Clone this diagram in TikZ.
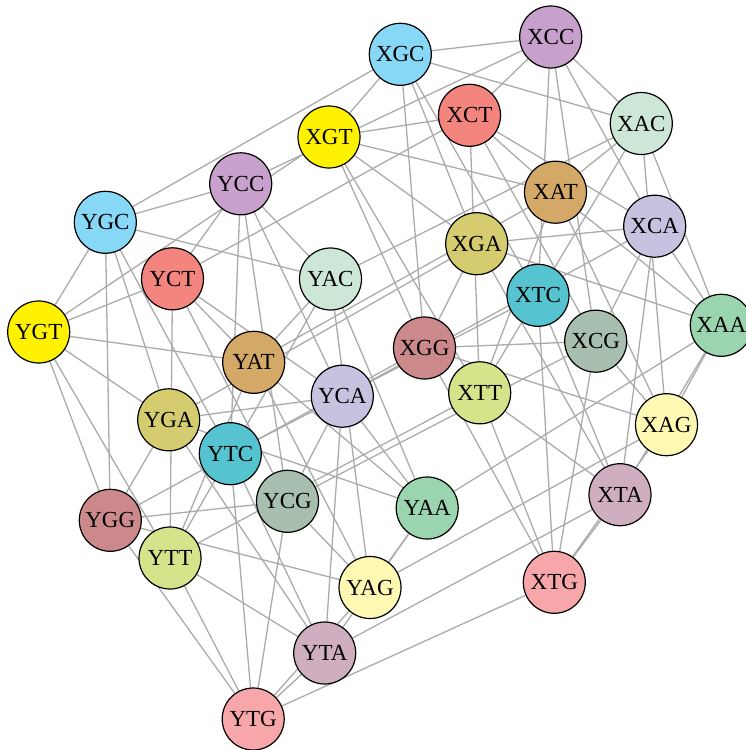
\documentclass[tikz,border=0pt]{standalone}
\usepackage{fontspec}
\setmainfont{Liberation Serif}
\usetikzlibrary{backgrounds}
\definecolor{cGC}{HTML}{87D7F7}
\definecolor{cCC}{HTML}{C8A0CC}
\definecolor{cCT}{HTML}{F4847E}
\definecolor{cAC}{HTML}{CDE7D7}
\definecolor{cGT}{HTML}{FFF200}
\definecolor{cAT}{HTML}{D4A866}
\definecolor{cCA}{HTML}{C6C3E1}
\definecolor{cGA}{HTML}{D5CC70}
\definecolor{cTC}{HTML}{56C4D0}
\definecolor{cAA}{HTML}{9AD5AF}
\definecolor{cGG}{HTML}{CC898C}
\definecolor{cCG}{HTML}{A8BFAF}
\definecolor{cTT}{HTML}{D5E38A}
\definecolor{cAG}{HTML}{FFF8B2}
\definecolor{cTA}{HTML}{CFAFBF}
\definecolor{cTG}{HTML}{F7A7AA}
\definecolor{edgegray}{HTML}{ABABAB}
\tikzset{
  vtx/.style={circle, draw=black, line width=1.2pt, minimum size=62pt, inner sep=0pt, font=\fontsize{23}{23}\selectfont},
  edge/.style={draw=edgegray, line width=1.3pt}
}
\begin{document}
\begin{tikzpicture}[x=1pt,y=-1pt]
\useasboundingbox (0,0) rectangle (745,750);
\foreach \n/\x/\y/\c in {
  XGC/400.3/54.3/GC, XCC/550.7/37/CC, XCT/469.5/115.3/CT, XAC/641.3/123.5/AC,
  XGT/329/137/GT, XAT/555.5/192.2/AT, XCA/654.7/226.2/CA, XGA/476.7/243.7/GA,
  YCC/240.7/183.8/CC, YGC/105.3/222.3/GC, YCT/172.5/278.8/CT, YAC/330.5/279/AC,
  YGT/38.7/332/GT, YAT/253.7/362.3/AT, YCA/342.3/396.2/CA, YGA/168.7/419.8/GA,
  XTC/538/295.3/TC, XGG/424.5/348/GG, XCG/595.7/341.2/CG, XAA/721.3/325.3/AA,
  XTT/479.7/392.8/TT, XAG/666.5/424.7/AG, XTA/620/494.7/TA, YAA/427.2/508/AA,
  YTC/230.3/453.7/TC, YCG/287.5/501.3/CG, YGG/110.3/520.3/GG, YTT/170/558/TT,
  YAG/370/587.5/AG, YTA/324.7/653/TA, YTG/253.2/719/TG, XTG/554.3/582.3/TG}
  {\node[vtx, fill=c\c] (\n) at (\x,\y) {\n};}
\begin{scope}[on background layer]
\foreach \p in {X,Y}{
  \foreach \t in {G,C,A,T}{
    \foreach \u/\v in {G/C,G/A,G/T,C/A,C/T,A/T}{
      \draw[edge] (\p\u\t) -- (\p\v\t);
      \draw[edge] (\p\t\u) -- (\p\t\v);
    }
  }
}
\foreach \a in {G,C,A,T}{\foreach \b in {G,C,A,T}{\draw[edge] (X\a\b) -- (Y\a\b);}}
\end{scope}
\end{tikzpicture}
\end{document}
